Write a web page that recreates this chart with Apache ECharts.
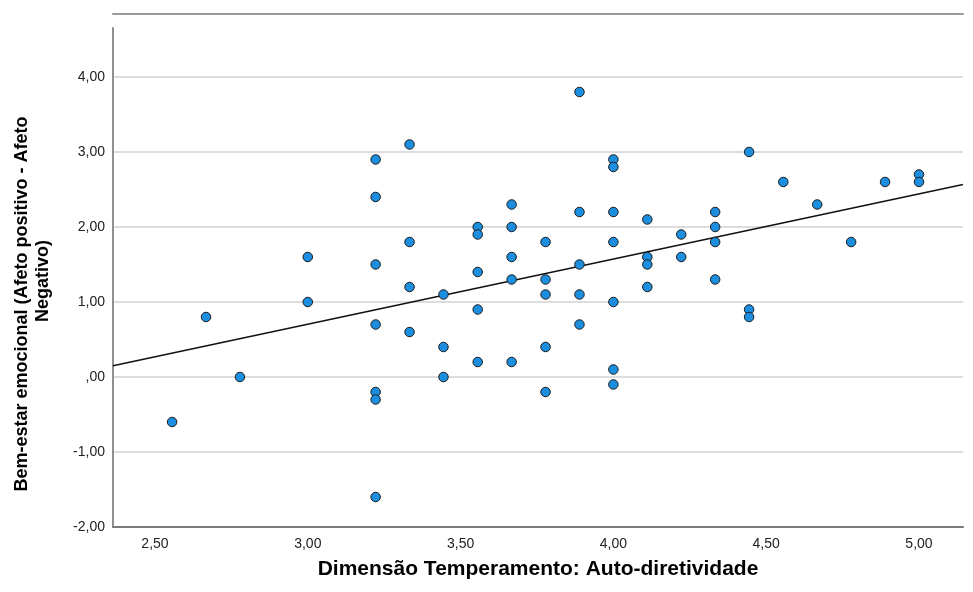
<!DOCTYPE html>
<html>
<head>
<meta charset="utf-8">
<script src="https://cdn.jsdelivr.net/npm/echarts@6/dist/echarts.min.js"></script>
<style>html,body{margin:0;padding:0;background:#fff}#c{width:973px;height:592px}</style>
</head>
<body>
<div id="c"></div>
<script>
// Auto-diretividade (x) values
const xValues = [
  2.556, 2.667, 2.778,
  3.000, 3.000,
  3.222, 3.222, 3.222, 3.222, 3.222, 3.222, 3.222,
  3.333, 3.333, 3.333, 3.333,
  3.444, 3.444, 3.444,
  3.556, 3.556, 3.556, 3.556, 3.556,
  3.667, 3.667, 3.667, 3.667, 3.667,
  3.778, 3.778, 3.778, 3.778, 3.778,
  3.889, 3.889, 3.889, 3.889, 3.889,
  4.000, 4.000, 4.000, 4.000, 4.000, 4.000, 4.000,
  4.111, 4.111, 4.111, 4.111,
  4.222, 4.222,
  4.333, 4.333, 4.333, 4.333,
  4.444, 4.444, 4.444,
  4.556, 4.667, 4.778, 4.889,
  5.000, 5.000
];
// Bem-estar emocional (y) values
const yValues = [
  -0.6, 0.8, 0.0,
  1.6, 1.0,
  2.9, 2.4, 1.5, 0.7, -0.2, -0.3, -1.6,
  3.1, 1.8, 1.2, 0.6,
  1.1, 0.4, 0.0,
  2.0, 1.9, 1.4, 0.9, 0.2,
  2.3, 2.0, 1.6, 1.3, 0.2,
  1.8, 1.3, 1.1, 0.4, -0.2,
  3.8, 2.2, 1.5, 1.1, 0.7,
  2.9, 2.8, 2.2, 1.8, 1.0, 0.1, -0.1,
  2.1, 1.6, 1.5, 1.2,
  1.9, 1.6,
  2.2, 2.0, 1.8, 1.3,
  3.0, 0.9, 0.8,
  2.6, 2.3, 1.8, 2.6,
  2.7, 2.6
];
const xTickValues = [2.5, 3.0, 3.5, 4.0, 4.5, 5.0];
const xRange = [2.3626, 5.144];
const yRange = [-2, 4.653];
const xTitle = 'Dimensão Temperamento: Auto-diretividade';
const yTitleLine1 = 'Bem-estar emocional (Afeto positivo - Afeto';
const yTitleLine2 = 'Negativo)';

// least-squares fit line from the data
const n = xValues.length;
const mx = xValues.reduce((a, b) => a + b, 0) / n;
const my = yValues.reduce((a, b) => a + b, 0) / n;
let sxy = 0, sxx = 0;
for (let i = 0; i < n; i++) { sxy += (xValues[i] - mx) * (yValues[i] - my); sxx += (xValues[i] - mx) ** 2; }
const slope = sxy / sxx, intercept = my - slope * mx;
const fitData = xRange.map(x => [x, intercept + slope * x]);

const fmt = v => { let s = Math.abs(v).toFixed(2).replace('.', ','); if (s.startsWith('0,')) s = s.slice(1); return (v < 0 ? '-' : '') + s; };
const FONT = "'Liberation Sans', Arial, sans-serif";

const chart = echarts.init(document.getElementById('c'), null, {renderer: 'canvas'});
chart.setOption({
  animation: false,
  backgroundColor: '#ffffff',
  grid: {left: 113, right: 10, top: 28, bottom: 65, containLabel: false, outerBoundsMode: 'none'},
  xAxis: [{
    type: 'value', min: xRange[0], max: xRange[1],
    name: xTitle, nameLocation: 'middle', nameGap: 32,
    nameTextStyle: {fontFamily: FONT, fontSize: 21, fontWeight: 'bold', color: '#000'},
    axisLine: {show: true, onZero: false, lineStyle: {color: '#7a7a7a', width: 2}},
    axisTick: {show: false},
    splitLine: {show: false},
    axisLabel: {customValues: xTickValues, formatter: fmt, margin: 10, fontFamily: FONT, fontSize: 14, color: '#222'}
  }, {
    type: 'value', position: 'top', offset: 14, min: xRange[0], max: xRange[1],
    axisLine: {show: true, onZero: false, lineStyle: {color: '#9a9a9a', width: 2}},
    axisTick: {show: false}, axisLabel: {show: false}, splitLine: {show: false}
  }],
  yAxis: [{
    type: 'value', position: 'left', min: yRange[0], max: yRange[1], interval: 1,
    name: yTitleLine1, nameLocation: 'middle', nameGap: 82, nameRotate: 90,
    nameTextStyle: {fontFamily: FONT, fontSize: 18, fontWeight: 'bold', color: '#000', padding: [0, 53, 0, 0]},
    axisLine: {show: true, onZero: false, lineStyle: {color: '#909090', width: 2}},
    axisTick: {show: false},
    splitLine: {show: true, showMaxLine: false, lineStyle: {color: '#d2d2d2', width: 1.5}},
    axisLabel: {showMaxLabel: false, formatter: fmt, margin: 8, fontFamily: FONT, fontSize: 14, color: '#222'}
  }, {
    type: 'value', position: 'left', offset: 0, min: yRange[0], max: yRange[1], interval: 1,
    name: yTitleLine2, nameLocation: 'middle', nameGap: 61, nameRotate: 90,
    nameTextStyle: {fontFamily: FONT, fontSize: 18, fontWeight: 'bold', color: '#000', padding: [0, 7, 0, 0]},
    axisLine: {show: false, onZero: false}, axisTick: {show: false}, axisLabel: {show: false}, splitLine: {show: false}
  }],
  series: [{
    type: 'line', data: fitData, showSymbol: false, symbol: 'none',
    lineStyle: {color: '#111', width: 1.5}, z: 2, silent: true
  }, {
    type: 'scatter', data: xValues.map((x, i) => [x, yValues[i]]),
    symbol: 'circle', symbolSize: 9.5,
    itemStyle: {color: '#1c8ee0', borderColor: '#1a1a1a', borderWidth: 1, opacity: 1},
    z: 3
  }]
});
</script>
</body>
</html>
